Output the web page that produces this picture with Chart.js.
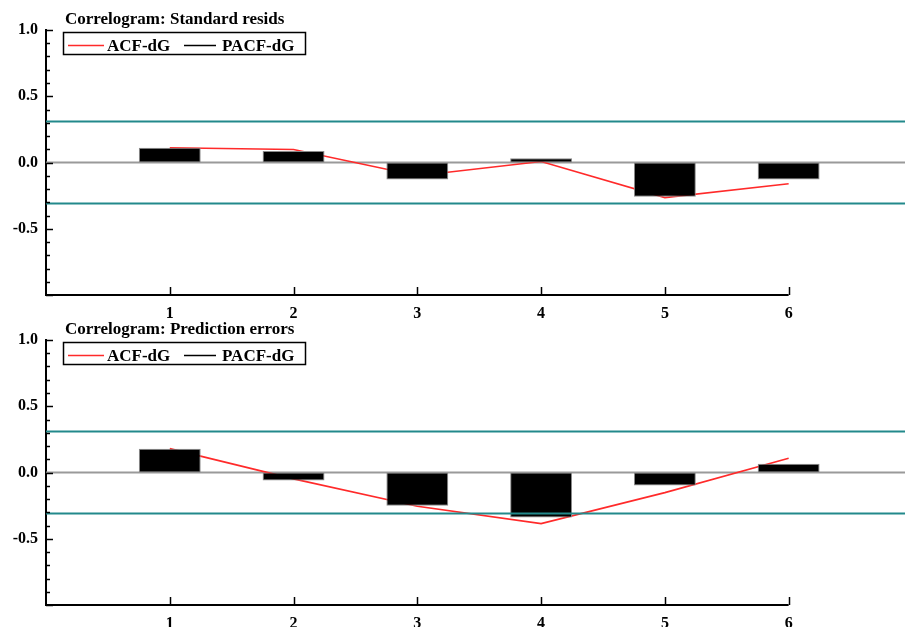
<!DOCTYPE html>
<html>
<head>
<meta charset="utf-8">
<script src="https://cdn.jsdelivr.net/npm/chart.js@4/dist/chart.umd.min.js"></script>
<style>
  html, body { margin: 0; padding: 0; background: #ffffff; overflow: hidden; }
  body { width: 905px; height: 627px; position: relative; }
  .wrap { position: absolute; left: 0; width: 905px; height: 330px; }
  #w1 { top: 0px; }
  #w2 { top: 310px; }
</style>
</head>
<body>
<div class="wrap" id="w1"><canvas id="c1" width="905" height="330"></canvas></div>
<div class="wrap" id="w2"><canvas id="c2" width="905" height="330"></canvas></div>
<script>
// ---- data ----
const LAGS = [1, 2, 3, 4, 5, 6];
const X_TICK_LABELS = ['1', '2', '3', '4', '5', '6'];
const Y_TICKS = [1.0, 0.5, 0.0, -0.5];
const SERIES_NAMES = ['ACF-dG', 'PACF-dG'];
const TITLES = ['Correlogram: Standard resids', 'Correlogram: Prediction errors'];
const CONF_BAND = 0.31;

const ACF_RESIDS  = [0.111, 0.098, -0.100, 0.008, -0.265, -0.160];
const PACF_RESIDS = [0.111, 0.086, -0.129, 0.033, -0.258, -0.129];

const ACF_PRED  = [0.180, -0.048, -0.255, -0.386, -0.152, 0.108];
const PACF_PRED = [0.180, -0.061, -0.250, -0.339, -0.098, 0.066];

// axis extents
const X_MIN = 0;
const X_MAX = 6.94;
const Y_MIN = -1;
const Y_MAX = 1;

const FONT_FAMILY = '"Liberation Serif", "DejaVu Serif", serif';
const RED = '#ff2a2a';
const TEAL = '#22898b';

function pts(xs, ys) { return xs.map((x, i) => ({ x: x, y: ys[i] })); }

const decorPlugin = {
  id: 'decor',
  afterDraw(chart, args, opts) {
    const ctx = chart.ctx;
    const xs = chart.scales.x, ys = chart.scales.y;
    const area = chart.chartArea;
    ctx.save();
    // x axis line from 0 to last lag
    const xb = area.bottom;
    ctx.strokeStyle = '#000';
    ctx.lineWidth = 2;
    ctx.beginPath();
    ctx.moveTo(xs.getPixelForValue(X_MIN), xb);
    ctx.lineTo(xs.getPixelForValue(LAGS[LAGS.length - 1]), xb);
    ctx.stroke();
    // x ticks pointing up
    ctx.lineWidth = 1.5;
    LAGS.forEach(v => {
      const px = Math.round(xs.getPixelForValue(v)) + 0.5;
      ctx.beginPath();
      ctx.moveTo(px, xb);
      ctx.lineTo(px, xb - 8);
      ctx.stroke();
    });
    // y ticks pointing right (minor every 0.1)
    const lx = area.left;
    for (let k = -10; k <= 10; k++) {
      const v = k / 10;
      const py = Math.round(ys.getPixelForValue(v)) + 0.5;
      const len = (k % 5 === 0) ? 7 : 4;
      ctx.beginPath();
      ctx.moveTo(lx, py);
      ctx.lineTo(lx + len, py);
      ctx.stroke();
    }
    // title
    ctx.fillStyle = '#000';
    ctx.font = 'bold 17px ' + FONT_FAMILY;
    ctx.textBaseline = 'alphabetic';
    ctx.textAlign = 'left';
    ctx.fillText(opts.title, 65, 23.5);
    // legend box
    const bx = 63.5, by = 32.5, bw = 242, bh = 22;
    ctx.fillStyle = '#fff';
    ctx.fillRect(bx, by, bw, bh);
    ctx.strokeStyle = '#000';
    ctx.lineWidth = 1.5;
    ctx.strokeRect(bx, by, bw, bh);
    const items = opts.legendItems;
    const ly = 45.5;
    const ldefs = [{ x0: 68, x1: 104, tx: 107 }, { x0: 184, x1: 216, tx: 222 }];
    items.forEach((it, i) => {
      const d = ldefs[i];
      ctx.strokeStyle = it.color;
      ctx.lineWidth = 1.5;
      ctx.beginPath();
      ctx.moveTo(d.x0, ly);
      ctx.lineTo(d.x1, ly);
      ctx.stroke();
      ctx.fillStyle = '#000';
      ctx.fillText(it.text, d.tx, 50.5);
    });
    ctx.restore();
  }
};

function makeChart(id, title, acf, pacf) {
  const ctx = document.getElementById(id).getContext('2d');
  return new Chart(ctx, {
    type: 'bar',
    data: {
      datasets: [
        {
          type: 'line', label: 'upper', data: [{ x: X_MIN, y: CONF_BAND }, { x: X_MAX, y: CONF_BAND }],
          borderColor: TEAL, borderWidth: 2, pointRadius: 0, order: 0
        },
        {
          type: 'line', label: 'lower', data: [{ x: X_MIN, y: -CONF_BAND }, { x: X_MAX, y: -CONF_BAND }],
          borderColor: TEAL, borderWidth: 2, pointRadius: 0, order: 0
        },
        {
          type: 'bar', label: SERIES_NAMES[1], data: pts(LAGS, pacf),
          backgroundColor: '#000', borderColor: '#8a8a8a', borderWidth: 1, borderSkipped: false,
          barPercentage: 0.5, categoryPercentage: 1.0, order: 1
        },
        {
          type: 'line', label: SERIES_NAMES[0], data: pts(LAGS, acf),
          borderColor: RED, borderWidth: 1.6, pointRadius: 0, tension: 0, order: 2
        },
        {
          type: 'line', label: 'zero', data: [{ x: X_MIN, y: 0 }, { x: X_MAX, y: 0 }],
          borderColor: '#9a9a9a', borderWidth: 2, pointRadius: 0, order: 3
        }
      ]
    },
    options: {
      responsive: false,
      animation: false,
      devicePixelRatio: 1,
      layout: { padding: { top: 30, bottom: 0, left: 0, right: 0 } },
      plugins: {
        legend: { display: false },
        tooltip: { enabled: false },
        title: { display: false },
        decor: {
          title: title,
          legendItems: [{ text: SERIES_NAMES[0], color: RED }, { text: SERIES_NAMES[1], color: '#000' }]
        }
      },
      scales: {
        x: {
          type: 'linear', min: X_MIN, max: X_MAX, offset: false,
          grid: { display: false, drawTicks: false },
          border: { display: false },
          afterBuildTicks: s => { s.ticks = LAGS.map(v => ({ value: v })); },
          afterFit: s => { s.height = 35; },
          ticks: {
            autoSkip: false, maxRotation: 0, padding: 9, color: '#000',
            font: { family: FONT_FAMILY, size: 16, weight: 'bold' },
            callback: v => { const i = LAGS.indexOf(v); return i >= 0 ? X_TICK_LABELS[i] : ''; }
          }
        },
        y: {
          type: 'linear', min: Y_MIN, max: Y_MAX,
          grid: { display: false, drawTicks: false },
          border: { display: true, color: '#000', width: 2 },
          afterBuildTicks: s => { s.ticks = Y_TICKS.map(v => ({ value: v })); },
          afterFit: s => { s.width = 46; },
          ticks: {
            padding: 8, color: '#000',
            font: { family: FONT_FAMILY, size: 16, weight: 'bold' },
            callback: v => Number(v).toFixed(1)
          }
        }
      }
    },
    plugins: [decorPlugin]
  });
}

makeChart('c1', TITLES[0], ACF_RESIDS, PACF_RESIDS);
makeChart('c2', TITLES[1], ACF_PRED, PACF_PRED);
</script>
</body>
</html>
